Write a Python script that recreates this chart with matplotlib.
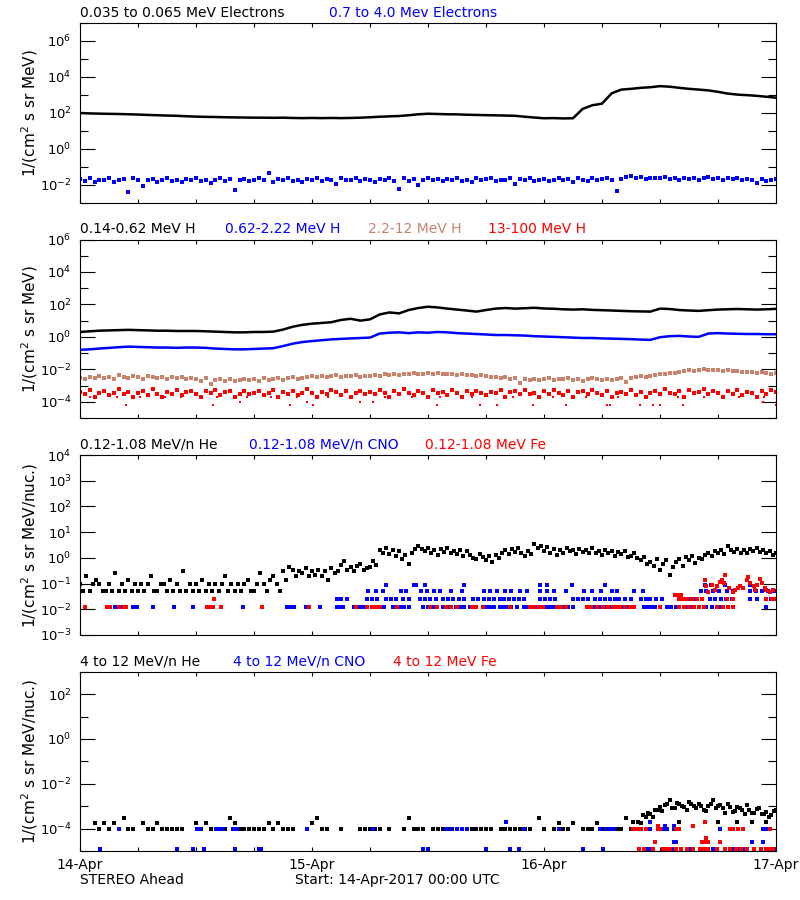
import matplotlib
matplotlib.use('Agg')
import matplotlib.pyplot as plt
from matplotlib.ticker import FixedLocator, LogFormatterMathtext, NullFormatter
import numpy as np

# time grids, hours after 14-Apr-2017 00:00 UTC
t_hr = np.arange(73)
t_30 = np.arange(145) * 0.5
t_20 = np.arange(217) / 3.0

# ---- panel 1: electrons ----
e_low = [100, 95, 92, 90, 88, 85, 82, 78, 75, 72, 70, 66, 63, 61, 60, 58, 57,
         56, 55, 55, 54, 55, 53, 52, 53, 52, 53, 52, 53, 55, 58, 62, 65, 68,
         75, 85, 91, 88, 85, 84, 80, 78, 76, 74, 72, 70, 62, 56,
         51, 52, 50, 51, 170, 270, 330, 1240, 2000, 2200, 2500, 2700, 3100,
         2900, 2500, 2200, 2000, 1800, 1500, 1200, 1050, 980, 900, 800, 710]

e_high = [0.022, 0.017, 0.025, 0.014, 0.020, 0.018, 0.023, 0.015, 0.019, 0.021, 0.004, 0.024,
          0.018, 0.009, 0.020, 0.022, 0.015, 0.019, 0.024, 0.017, 0.020, 0.014, 0.021, 0.018,
          0.023, 0.016, 0.019, 0.013, 0.020, 0.025, 0.017, 0.021, 0.0055, 0.019, 0.022, 0.016,
          0.020, 0.024, 0.018, 0.045, 0.015, 0.021, 0.019, 0.023, 0.017, 0.020, 0.014, 0.022,
          0.018, 0.025, 0.016, 0.021, 0.019, 0.012, 0.023, 0.018, 0.020, 0.026, 0.017, 0.021,
          0.019, 0.015, 0.022, 0.018, 0.024, 0.016, 0.006, 0.023, 0.017, 0.021, 0.010, 0.019,
          0.025, 0.018, 0.021, 0.016, 0.022, 0.019, 0.024, 0.017, 0.020, 0.015, 0.023, 0.018,
          0.021, 0.026, 0.016, 0.020, 0.019, 0.024, 0.012, 0.021, 0.018, 0.023, 0.017, 0.020,
          0.022, 0.016, 0.019, 0.025, 0.018, 0.021, 0.015, 0.023, 0.020, 0.017, 0.024, 0.019,
          0.021, 0.026, 0.018, 0.0045, 0.022, 0.028, 0.030, 0.025, 0.027, 0.022, 0.026, 0.024,
          0.023, 0.027, 0.021, 0.025, 0.019, 0.024, 0.022, 0.026, 0.020, 0.023, 0.028, 0.021,
          0.024, 0.019, 0.023, 0.021, 0.026, 0.018, 0.022, 0.020, 0.013, 0.021, 0.017, 0.019,
          0.022]

# ---- panel 2: protons ----
h_014 = [2.0, 2.2, 2.4, 2.5, 2.6, 2.7, 2.6, 2.5, 2.4, 2.4, 2.3, 2.3, 2.3, 2.2, 2.1,
         2.0, 1.9, 1.9, 2.0, 2.0, 2.1, 2.8, 4.2, 5.5, 6.5, 7.2, 8.0, 11, 13, 10, 12,
         24, 32, 28, 45, 60, 72, 65, 55, 48, 42, 36, 45, 55, 60, 55, 58, 62, 56, 54,
         50, 48, 50, 46, 44, 42, 40, 38, 37, 36, 55, 52, 45, 42, 40, 44, 48, 50, 52,
         50, 48, 50, 53]

h_062 = [0.16, 0.17, 0.19, 0.21, 0.23, 0.25, 0.24, 0.23, 0.22, 0.22, 0.21, 0.22, 0.22,
         0.21, 0.19, 0.18, 0.17, 0.17, 0.18, 0.19, 0.20, 0.27, 0.38, 0.48, 0.55, 0.62,
         0.70, 0.75, 0.80, 0.85, 0.90, 1.6, 1.8, 1.9, 1.7, 1.9, 1.8, 2.0, 1.9, 1.7, 1.6,
         1.5, 1.4, 1.3, 1.3, 1.25, 1.2, 1.1, 1.05, 1.0, 0.95, 0.9, 0.85, 0.85, 0.8, 0.78,
         0.75, 0.72, 0.68, 0.65, 0.95, 1.1, 1.15, 1.05, 1.0, 1.6, 1.7, 1.6, 1.55, 1.5,
         1.5, 1.45, 1.45]

h_22 = [0.0031, 0.0024, 0.0036, 0.0028, 0.0040, 0.0030, 0.0034, 0.0026, 0.0042, 0.0033, 0.0029, 0.0038,
        0.0035, 0.0027, 0.0041, 0.0032, 0.0030, 0.0036, 0.0025, 0.0033, 0.0029, 0.0034, 0.0026, 0.0031,
        0.0024, 0.0019, 0.0028, 0.0013, 0.0022, 0.0026, 0.0020, 0.0025, 0.0018, 0.0023, 0.0027, 0.0021,
        0.0025, 0.0020, 0.0028, 0.0023, 0.0026, 0.0030, 0.0022, 0.0029, 0.0033, 0.0027, 0.0031, 0.0035,
        0.0038, 0.0032, 0.0041, 0.0035, 0.0039, 0.0044, 0.0034, 0.0040, 0.0037, 0.0043, 0.0033, 0.0039,
        0.0041, 0.0046, 0.0038, 0.0049, 0.0044, 0.0052, 0.0047, 0.0055, 0.0050, 0.0058, 0.0048, 0.0054,
        0.0057, 0.0051, 0.0060, 0.0053, 0.0049, 0.0055, 0.0046, 0.0050, 0.0043, 0.0047, 0.0040, 0.0044,
        0.0038, 0.0033, 0.0036, 0.0030, 0.0032, 0.0027, 0.0029, 0.0014, 0.0026, 0.0022, 0.0025, 0.0021,
        0.0024, 0.0028, 0.0022, 0.0027, 0.0025, 0.0030, 0.0023, 0.0027, 0.0020, 0.0026, 0.0029, 0.0024,
        0.0023, 0.0027, 0.0021, 0.0026, 0.0028, 0.0016, 0.0030, 0.0034, 0.0037, 0.0035, 0.0040, 0.0044,
        0.0048, 0.0055, 0.0062, 0.0058, 0.0070, 0.0078, 0.0085, 0.0080, 0.0092, 0.0098, 0.0088, 0.0095,
        0.0090, 0.0084, 0.0089, 0.0078, 0.0075, 0.0068, 0.0072, 0.0064, 0.0060, 0.0066, 0.0058, 0.0055,
        0.0056]

h_13 = [4.2e-4, 3.0e-4, 5.5e-4, 1.9e-4, 3.6e-4, 4.8e-4, 2.6e-4, 3.3e-4, 6.2e-4, 3.0e-4, 4.0e-4, 1.9e-4,
        3.5e-4, 4.5e-4, 2.8e-4, 5.8e-4, 3.2e-4, 1.9e-4, 4.1e-4, 3.0e-4, 5.0e-4, 2.6e-4, 3.8e-4, 4.4e-4,
        3.1e-4, 1.9e-4, 4.6e-4, 3.4e-4, 5.2e-4, 2.7e-4, 3.9e-4, 4.3e-4, 1.9e-4, 3.2e-4, 4.9e-4, 2.9e-4,
        3.7e-4, 4.4e-4, 2.5e-4, 3.5e-4, 5.4e-4, 1.9e-4, 4.0e-4, 3.1e-4, 4.7e-4, 2.8e-4, 3.6e-4, 6.0e-4,
        3.3e-4, 1.9e-4, 4.2e-4, 3.0e-4, 5.1e-4, 3.8e-4, 2.6e-4, 4.5e-4, 1.9e-4, 3.4e-4, 4.8e-4, 3.1e-4,
        4.0e-4, 2.9e-4, 5.6e-4, 3.5e-4, 1.9e-4, 4.3e-4, 3.2e-4, 6.5e-4, 3.7e-4, 2.7e-4, 4.6e-4, 3.3e-4,
        1.9e-4, 5.0e-4, 3.6e-4, 4.1e-4, 2.8e-4, 5.3e-4, 3.4e-4, 1.9e-4, 4.4e-4, 3.0e-4, 4.9e-4, 3.6e-4,
        2.6e-4, 4.2e-4, 3.3e-4, 5.4e-4, 1.9e-4, 3.8e-4, 4.5e-4, 3.1e-4, 5.0e-4, 2.9e-4, 3.7e-4, 1.9e-4,
        4.3e-4, 3.2e-4, 5.6e-4, 3.5e-4, 2.7e-4, 4.7e-4, 1.9e-4, 3.9e-4, 4.4e-4, 3.0e-4, 5.2e-4, 3.4e-4,
        2.8e-4, 4.6e-4, 1.9e-4, 3.6e-4, 4.1e-4, 3.2e-4, 5.5e-4, 2.6e-4, 4.0e-4, 1.9e-4, 3.5e-4, 4.8e-4,
        3.1e-4, 5.8e-4, 3.7e-4, 2.9e-4, 4.4e-4, 1.9e-4, 5.1e-4, 3.3e-4, 4.2e-4, 6.3e-4, 3.0e-4, 4.6e-4,
        3.6e-4, 1.9e-4, 4.9e-4, 3.2e-4, 5.4e-4, 2.8e-4, 4.0e-4, 3.5e-4, 1.9e-4, 4.7e-4, 3.1e-4, 5.0e-4,
        3.8e-4]
h_13_t_19 = [1.0, 3.8, 6.2, 8.8, 10.4, 14.2, 17.3, 19.8, 22.4, 25.7, 28.1, 31.6,
             34.3, 37.2, 40.6, 44.8, 48.9, 52.3, 55.7, 58.4, 61.9, 64.6, 68.2, 70.8]
h_13_t_10 = [16.6, 23.5, 29.0, 30.3, 70.7]
h_13_t_06 = [4.8, 13.8, 21.7, 24.1, 36.9, 41.4, 43.1, 46.9, 50.3, 54.5, 54.8,
             57.9, 59.3, 60.0, 62.4, 72.0]

# ---- panel 3: 0.12-1.08 MeV/n ions ----
he_low = [0.10, 0.05, 0.19, 0.05, 0.10, 0.14, 0.10, 0.05, 0.05, 0.10, 0.05, 0.26,
          0.05, 0.10, 0.05, 0.14, 0.05, 0.10, 0.05, 0.10, 0.05, 0.10, 0.19, 0.05,
          0.05, 0.10, 0.10, 0.05, 0.14, 0.05, 0.10, 0.05, 0.30, 0.05, 0.10, 0.05,
          0.10, 0.05, 0.14, 0.05, 0.10, 0.05, 0.10, 0.05, 0.10, 0.19, 0.05, 0.10,
          0.05, 0.10, 0.05, 0.10, 0.14, 0.05, 0.05, 0.10, 0.26, 0.10, 0.05, 0.14,
          0.19, 0.10, 0.05, 0.30, 0.14, 0.45, 0.35, 0.19, 0.30, 0.26, 0.40, 0.19,
          0.30, 0.22, 0.35, 0.19, 0.30, 0.14, 0.40, 0.26, 0.30, 0.55, 0.74, 0.35,
          0.45, 0.30, 0.50, 0.60, 0.35, 0.40, 0.45, 0.74, 0.55, 2.1, 1.6, 2.4,
          1.4, 2.0, 1.2, 1.8, 0.9, 1.3, 0.6, 1.5, 2.3, 2.8, 2.2, 1.8,
          2.4, 1.5, 2.0, 1.3, 2.2, 1.7, 2.5, 1.6, 1.9, 1.4, 2.1, 1.2,
          1.8, 1.3, 1.0, 0.9, 1.4, 1.1, 0.8, 1.2, 0.7, 1.3, 1.0, 1.6,
          2.0, 1.4, 2.3, 1.7, 2.5, 1.5, 1.2, 1.9, 1.4, 3.6, 2.4, 2.8,
          1.8, 2.6, 1.5, 2.2, 1.3, 2.0, 1.6, 2.5, 1.9, 2.1, 1.4, 2.3,
          1.7, 2.0, 1.5, 2.4, 1.6, 1.9, 1.3, 2.1, 1.6, 1.8, 1.2, 1.7,
          1.4, 1.9, 1.1, 1.2, 1.6, 1.0, 0.8, 1.1, 0.6, 0.7, 0.5, 0.9,
          0.35, 0.6, 0.8, 0.22, 0.45, 0.7, 0.9, 0.5, 1.1, 0.8, 1.2, 0.65,
          1.0, 0.9, 1.3, 1.5, 1.2, 1.8, 1.6, 2.1, 1.4, 2.8, 2.0, 1.7,
          2.3, 1.6, 2.0, 1.5, 2.2, 1.8, 2.4, 1.7, 2.0, 1.6, 1.9, 1.3,
          1.55]

cno_low_t_012 = [0.5, 3.1, 3.6, 4.3, 5.5, 5.9, 7.6, 9.7, 11.7, 13.3, 13.8, 16.9, 21.4, 21.8,
                 22.1, 23.4, 24.8, 26.6, 26.9, 27.2, 28.3, 28.6, 29.0, 29.4, 29.7, 30.3, 30.7,
                 31.0, 31.4, 32.4, 33.1, 33.5, 34.0, 35.5, 36.0, 36.5, 36.9, 37.6, 38.0, 38.4,
                 38.9, 39.3, 39.7, 40.3, 40.7, 41.0, 41.7, 42.1, 42.5, 42.8, 43.4, 43.8, 44.2,
                 44.6, 45.2, 45.9, 46.3, 46.8, 47.2, 47.6, 48.3, 48.7, 49.0, 49.7, 50.1, 50.5,
                 51.0, 52.4, 52.8, 53.2, 53.6, 54.0, 54.4, 54.8, 55.2, 55.9, 56.3, 56.7, 57.3,
                 58.3, 58.7, 59.1, 59.5, 60.0, 60.7, 61.1, 61.7, 62.8, 63.4, 64.8, 65.4, 66.2,
                 67.0, 67.6, 71.0]
cno_low_t_025 = [26.6, 27.0, 27.6, 29.7, 30.2, 30.7, 31.7, 32.2, 32.7, 33.4, 34.0, 35.2, 35.7,
                 36.2, 36.8, 37.6, 38.1, 38.6, 39.2, 39.7, 40.7, 41.2, 41.8, 42.3, 42.8, 43.4,
                 43.9, 44.4, 44.9, 45.4, 45.9, 47.6, 48.1, 48.6, 49.1, 51.0, 51.5, 52.0, 52.6,
                 53.3, 53.8, 54.3, 54.8, 55.3, 55.8, 56.4, 57.0, 58.0, 58.5, 59.0, 59.6, 60.2,
                 62.4, 62.9, 63.5, 65.2, 65.7, 66.3, 66.8, 67.4, 69.3, 70.0, 71.0, 71.5]
cno_low_t_050 = [29.8, 30.6, 31.3, 33.2, 33.7, 35.3, 35.9, 36.6, 37.2, 38.4, 39.5, 41.8, 42.4,
                 43.1, 44.0, 44.6, 45.5, 46.2, 47.6, 48.3, 49.0, 50.3, 52.1, 53.0, 53.9, 55.0,
                 55.5, 57.3, 58.2, 64.2, 64.8, 65.5, 66.1, 66.9, 67.6, 69.3, 69.9, 70.5, 71.2,
                 71.8]
cno_low_t_085 = [31.7, 34.5, 34.8, 35.7, 39.7, 47.6, 48.3, 50.9, 54.3, 64.7, 65.3, 66.7,
                 69.3, 70.0]

fe_low_t_012 = [0.5, 2.8, 3.1, 4.0, 4.5, 4.8, 13.1, 13.5, 13.8, 14.6, 18.8, 23.7, 28.5, 29.7,
                30.2, 30.6, 31.0, 32.8, 36.2, 36.9, 37.9, 38.4, 39.0, 40.5, 41.0, 41.7, 44.5,
                46.5, 47.0, 47.5, 47.9, 49.3, 49.8, 50.3, 52.4, 52.9, 53.5, 54.1, 54.6, 55.1,
                55.5, 55.9, 56.4, 56.9, 57.3, 60.0, 62.0, 62.5, 63.0, 63.5, 64.0, 64.5, 65.9,
                66.5, 67.0, 67.6]
fe_low_t_025 = [13.9, 62.0, 62.4, 62.8, 63.3, 63.8, 64.3, 66.9, 67.5, 71.0, 71.6, 72.0]
fe_low_burst_t = [61.5, 61.9, 62.2, 64.7, 64.8, 65.0, 65.4, 65.7, 65.9, 66.2, 66.4, 66.6,
                  66.7, 67.1, 67.6, 67.8, 68.1, 68.3, 68.6, 69.0, 69.1, 69.3, 69.7, 69.8,
                  70.0, 70.3, 70.5, 70.9, 71.0, 71.4, 71.7]
fe_low_burst_v = [0.037, 0.037, 0.037, 0.14, 0.079, 0.048, 0.091, 0.058, 0.079, 0.12, 0.14,
                  0.106, 0.21, 0.068, 0.048, 0.058, 0.068, 0.079, 0.068, 0.14, 0.18, 0.106,
                  0.079, 0.058, 0.091, 0.15, 0.106, 0.068, 0.058, 0.048, 0.058]

# ---- panel 4: 4-12 MeV/n ions ----
nan = np.nan
he_high = [nan, nan, nan, 1.85e-4, 1e-4, 1.85e-4, 1e-4, 1.85e-4, nan, 2.96e-4, 1e-4, 1e-4,
           nan, 1.85e-4, 1e-4, 1e-4, 1.85e-4, 1e-4, 1e-4, 1e-4, 1e-4, 1e-4, nan, nan,
           1.85e-4, 1e-4, 1.85e-4, 1e-4, nan, 1e-4, 1e-4, 2.96e-4, 1.85e-4, 1e-4, 1e-4, 1e-4,
           1e-4, 1e-4, 1e-4, 1.85e-4, 1e-4, 1.85e-4, 1e-4, 1e-4, 1e-4, nan, nan, nan,
           1.85e-4, 2.96e-4, 1e-4, 1e-4, nan, nan, 1e-4, nan, nan, nan, 1e-4, 1e-4,
           1e-4, 1e-4, 1e-4, nan, 1e-4, nan, nan, 1e-4, 2.96e-4, 1e-4, 1e-4, 1e-4,
           nan, 1e-4, 1e-4, 1e-4, 1e-4, 1e-4, 1e-4, 1e-4, nan, 1e-4, 1e-4, 1e-4,
           1e-4, 1e-4, nan, 1e-4, 1e-4, 1e-4, 1e-4, 1e-4, 1e-4, 1e-4, nan, 2.96e-4,
           1e-4, nan, 1e-4, 1.85e-4, 1e-4, 1e-4, 1.85e-4, nan, 1e-4, 1e-4, 1e-4, 1.85e-4,
           1e-4, 1e-4, nan, 1e-4, 1e-4, 2.96e-4, 1e-4, 1e-4, 1.85e-4, 3.3e-4, 4.6e-4, 6.5e-4,
           9.1e-4, 1.1e-3, 1.8e-3, 8e-4, 1.3e-3, 9.1e-4, 1.5e-3, 1.0e-3, 1.2e-3, 7e-4, 1.0e-3, 1.9e-3,
           1.0e-3, 8e-4, 1.2e-3, 5.5e-4, 9e-4, 6.5e-4, 1.1e-3, 5e-4, 7.5e-4, 4.6e-4, 5.5e-4, 4.0e-4,
           6.5e-4]
he_high_extra_t = [57.25, 57.75, 58.25, 58.75, 59.25, 59.75, 60.25, 60.75, 61.25, 61.75, 62.25,
                   62.75, 63.25, 63.75, 64.25, 64.75, 65.25, 65.75, 66.25, 66.75, 67.25, 67.75,
                   68.25, 68.75, 69.25, 69.75, 70.25, 70.75, 71.25, 71.75, 62.0, 66.0, 68.0,
                   69.5, 71.0]
he_high_extra_v = [2e-4, 2e-4, 4e-4, 5e-4, 3.3e-4, 7e-4, 6e-4, 1.3e-3, 8e-4, 1.4e-3, 1.0e-3,
                   6.5e-4, 1.2e-3, 8e-4, 1.0e-3, 6e-4, 1.2e-3, 8e-4, 1.1e-3, 5e-4, 9e-4, 6e-4,
                   8e-4, 4.5e-4, 7e-4, 5e-4, 8.5e-4, 4.6e-4, 3.3e-4, 6e-4, 2e-4, 2e-4, 2e-4,
                   2e-4, 2e-4]

cno_high_t_1e4 = [4.0, 12.1, 12.4, 14.1, 14.5, 14.8, 15.8, 16.2, 23.5, 30.3, 37.9, 38.4, 39.0,
                  39.5, 40.0, 45.9, 49.5, 53.8, 54.3, 54.8, 55.2, 59.0, 60.0, 60.4, 60.7,
                  61.4, 66.2, 70.7, 71.0, 71.4]
cno_high_t_2e4 = [44.1, 59.0]
cno_high_t_13e5 = [60.5, 61.4]
cno_high_t_25e6 = [61.4, 61.7, 69.5, 70.7]
cno_high_t_12e6 = [2.1, 10.0, 11.7, 12.8, 16.0, 18.5, 18.7, 35.5, 36.0, 42.0, 44.5, 45.4, 52.0,
                   54.1, 58.6, 59.0, 59.3, 60.3, 60.7, 61.0, 61.4, 61.7, 63.1, 63.4, 65.5,
                   67.6, 68.0, 68.6, 72.0]

fe_high_t_1e4 = [57.2, 57.6, 58.0, 58.6, 59.8, 60.0, 61.7, 62.0, 67.2, 67.6, 68.1, 68.6, 71.4]
fe_high_t_2e4 = [64.7]
fe_high_t_13e5 = [59.8, 63.4]
fe_high_t_38e6 = [64.8]
fe_high_t_25e6 = [59.5, 64.3, 64.6, 65.0, 66.2]
fe_high_t_12e6 = [57.8, 58.3, 59.3, 60.3, 60.7, 61.0, 61.7, 62.2, 62.8, 63.4, 64.1, 64.5, 65.0,
                  65.9, 66.7, 67.2, 67.9, 68.4, 69.0, 69.7, 70.4, 71.0, 71.4, 71.7]

day_labels = ['14-Apr', '15-Apr', '16-Apr', '17-Apr']

BLUE = '#0000ff'
RED = '#ff0000'
BROWN = '#c8836a'

plt.rcParams['font.family'] = ['DejaVu Sans']
plt.rcParams['axes.linewidth'] = 0.8

W, H = 800, 900
fig = plt.figure(figsize=(8, 9), dpi=100)


def add_panel(top, bottom):
    return fig.add_axes([80 / W, 1 - bottom / H, 696 / W, (bottom - top) / H])


def style(ax, ylim, major, minor, ylabel):
    ax.set_yscale('log')
    ax.set_ylim(*ylim)
    ax.set_xlim(0, 72)
    ax.yaxis.set_major_locator(FixedLocator(major))
    ax.yaxis.set_minor_locator(FixedLocator(minor))
    ax.yaxis.set_major_formatter(LogFormatterMathtext())
    ax.yaxis.set_minor_formatter(NullFormatter())
    ax.tick_params(axis='y', which='major', direction='in', length=11, width=0.8,
                   left=True, right=True, labelsize=9.5, pad=6)
    ax.tick_params(axis='y', which='minor', direction='in', length=5.5, width=0.8,
                   left=True, right=True)
    ax.set_xticks(np.arange(0, 73, 6))
    ax.tick_params(axis='x', direction='in', length=3, width=0.8, top=True, bottom=True,
                   labelbottom=False)
    ax.set_ylabel(ylabel, fontsize=11)
    ax.yaxis.set_label_coords(-0.058, 0.5)


def dots(ax, t, v, color, ms=2.3):
    ax.plot(t, v, 's', color=color, ms=ms, mew=0, linestyle='none')


def row(ax, t, level, color, ms=2.5):
    dots(ax, t, [level] * len(t), color, ms)


def label(x, y, s, color='black'):
    fig.text(x / W, 1 - y / H, s, color=color, fontsize=10, va='center', ha='left')


# panel 1
ax1 = add_panel(23, 203)
style(ax1, (1e-3, 1e7), [1e-2, 1, 1e2, 1e4, 1e6], [1e-3, 1e-1, 1e1, 1e3, 1e5, 1e7],
      r'1/(cm$^2$ s sr MeV)')
ax1.plot(t_hr, e_low, color='black', lw=1.8)
dots(ax1, t_30, e_high, BLUE)
label(80, 13, '0.035 to 0.065 MeV Electrons')
label(329, 13, '0.7 to 4.0 Mev Electrons', BLUE)

# panel 2
ax2 = add_panel(239.5, 418)
style(ax2, (1e-5, 1e6), [1e-4, 1e-2, 1, 1e2, 1e4, 1e6], [1e-5, 1e-3, 1e-1, 1e1, 1e3, 1e5],
      r'1/(cm$^2$ s sr MeV)')
ax2.plot(t_hr, h_014, color='black', lw=1.8)
ax2.plot(t_hr, h_062, color=BLUE, lw=1.8)
dots(ax2, t_30, h_22, BROWN, ms=2.6)
dots(ax2, t_30, h_13, RED)
row(ax2, h_13_t_19, 1.9e-4, RED, ms=2.0)
row(ax2, h_13_t_10, 1.0e-4, RED, ms=2.0)
row(ax2, h_13_t_06, 6.3e-5, RED, ms=2.0)
label(80, 229, '0.14-0.62 MeV H')
label(225, 229, '0.62-2.22 MeV H', BLUE)
label(368, 229, '2.2-12 MeV H', BROWN)
label(488, 229, '13-100 MeV H', RED)

# panel 3
ax3 = add_panel(455, 635)
style(ax3, (1e-3, 1e4), [1e-3, 1e-2, 1e-1, 1, 1e1, 1e2, 1e3, 1e4], [],
      r'1/(cm$^2$ s sr MeV/nuc.)')
dots(ax3, t_20, he_low, 'black')
row(ax3, cno_low_t_012, 0.012, BLUE)
row(ax3, cno_low_t_025, 0.025, BLUE)
row(ax3, cno_low_t_050, 0.05, BLUE)
row(ax3, cno_low_t_085, 0.085, BLUE)
row(ax3, fe_low_t_012, 0.012, RED)
row(ax3, fe_low_t_025, 0.025, RED)
dots(ax3, fe_low_burst_t, fe_low_burst_v, RED, ms=2.5)
label(80, 445, '0.12-1.08 MeV/n He')
label(249, 445, '0.12-1.08 MeV/n CNO', BLUE)
label(425, 445, '0.12-1.08 MeV Fe', RED)

# panel 4
ax4 = add_panel(671.7, 851)
style(ax4, (1e-5, 1e3), [1e-4, 1e-2, 1, 1e2], [1e-5, 1e-3, 1e-1, 1e1, 1e3],
      r'1/(cm$^2$ s sr MeV/nuc.)')
dots(ax4, t_30, he_high, 'black')
dots(ax4, he_high_extra_t, he_high_extra_v, 'black')
row(ax4, cno_high_t_1e4, 1e-4, BLUE)
row(ax4, cno_high_t_2e4, 2e-4, BLUE)
row(ax4, cno_high_t_13e5, 1.3e-4, BLUE)
row(ax4, cno_high_t_25e6, 2.5e-5, BLUE)
row(ax4, cno_high_t_12e6, 1.2e-5, BLUE)
row(ax4, fe_high_t_1e4, 1e-4, RED)
row(ax4, fe_high_t_2e4, 2e-4, RED)
row(ax4, fe_high_t_13e5, 1.3e-4, RED)
row(ax4, fe_high_t_38e6, 3.8e-5, RED)
row(ax4, fe_high_t_25e6, 2.5e-5, RED)
row(ax4, fe_high_t_12e6, 1.2e-5, RED)
label(80, 661.7, '4 to 12 MeV/n He')
label(233, 661.7, '4 to 12 MeV/n CNO', BLUE)
label(393, 661.7, '4 to 12 MeV Fe', RED)

xt = np.arange(0, 73, 6)
ax4.set_xticks(xt)
ax4.set_xticklabels([day_labels[int(h // 24)] if h % 24 == 0 else '' for h in xt])
ax4.tick_params(axis='x', labelbottom=True, labelsize=10, pad=5)

label(80, 880, 'STEREO Ahead')
label(295, 880, 'Start: 14-Apr-2017 00:00 UTC')

fig.savefig('out.png', dpi=100)
